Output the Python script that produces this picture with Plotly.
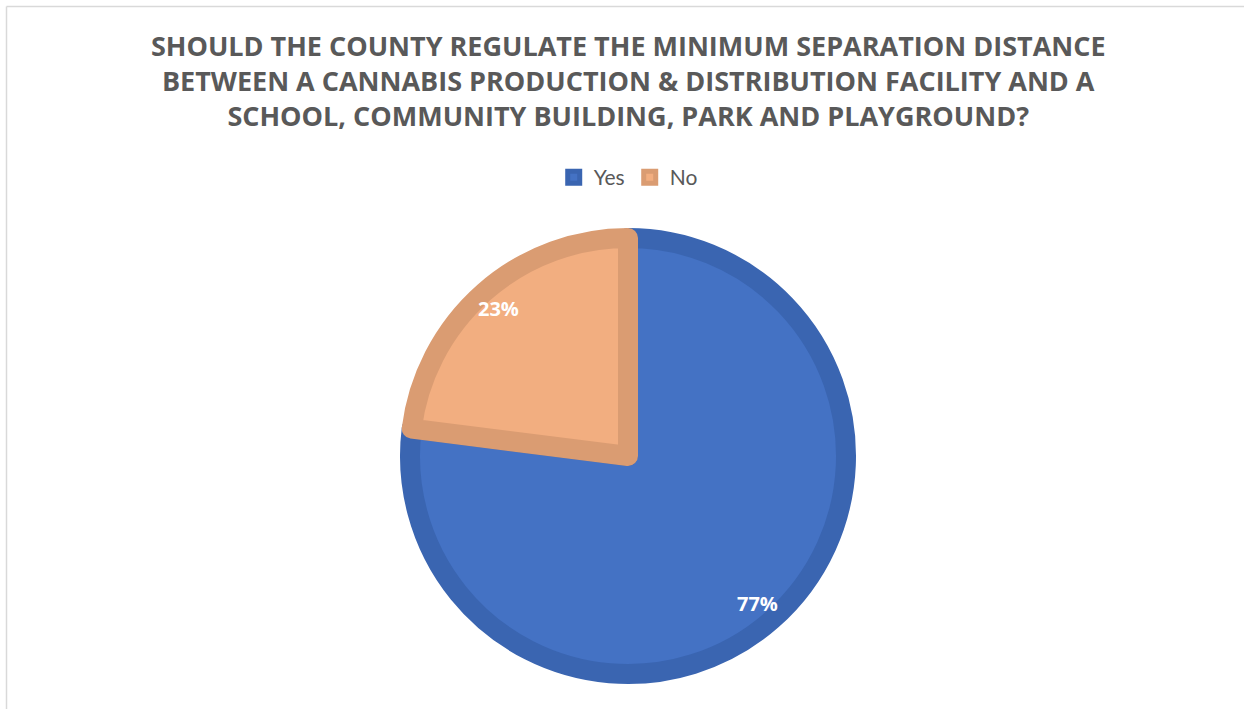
import math
import plotly.graph_objects as go

categories = ["Yes", "No"]
values = [77, 23]
fill_colors = ["#4472C4", "#F2AE80"]
line_colors = ["#3A65B1", "#DA9C72"]
title_lines = [
    "SHOULD THE COUNTY REGULATE THE MINIMUM SEPARATION DISTANCE",
    "BETWEEN A CANNABIS PRODUCTION &amp; DISTRIBUTION FACILITY AND A",
    "SCHOOL, COMMUNITY BUILDING, PARK AND PLAYGROUND?",
]

W, H = 1244, 709
cx, cy, R_outer = 628, 456, 228
stroke = 20
R = R_outer - stroke / 2

fig = go.Figure()
fig.add_trace(go.Pie(
    labels=categories,
    values=values,
    sort=False,
    direction="clockwise",
    rotation=0,
    textinfo="none",
    hoverinfo="label+percent",
    marker=dict(colors=fill_colors, line=dict(color=line_colors, width=stroke)),
    domain=dict(x=[(cx - R) / W, (cx + R) / W], y=[(H - cy - R) / H, (H - cy + R) / H]),
))

# percentage labels placed at mid-angle of each slice
total = sum(values)
annotations = []
cum = 0
for v in values:
    mid = (cum + v / 2) / total * 2 * math.pi
    cum += v
    r = 0.86 * R_outer
    px = cx + r * math.sin(mid)
    py = cy - r * math.cos(mid)
    annotations.append(dict(
        x=px / W, y=1 - py / H, xref="paper", yref="paper",
        xanchor="center", yanchor="middle",
        text=f"<b>{round(v / total * 100)}%</b>", showarrow=False,
        font=dict(family="Open Sans", size=20, color="white"),
    ))

fig.update_layout(
    width=W, height=H,
    margin=dict(l=0, r=0, t=0, b=0),
    paper_bgcolor="white",
    title=dict(
        text="<b>" + "<br>".join(title_lines) + "</b>",
        x=0.505, xanchor="center", y=1 - 56 / H, yanchor="top",
        font=dict(family="Open Sans", size=27, color="#595959"),
    ),
    legend=dict(
        orientation="h", x=0.505, xanchor="center", y=1 - 157 / H, yanchor="top",
        font=dict(family="Lato", size=21, color="#595959"),
        itemwidth=30,
    ),
    annotations=annotations,
    shapes=[
        dict(type="line", xref="paper", yref="paper", x0=6.5 / W, x1=1, y0=1 - 6.5 / H, y1=1 - 6.5 / H,
             line=dict(color="#D9D9D9", width=1.5)),
        dict(type="line", xref="paper", yref="paper", x0=6.5 / W, x1=6.5 / W, y0=0, y1=1 - 6.5 / H,
             line=dict(color="#D9D9D9", width=1.5)),
    ],
)

fig.write_html("out.html", config={"displayModeBar": False},
               post_script="document.body.style.margin='0';document.body.style.padding='0';")
